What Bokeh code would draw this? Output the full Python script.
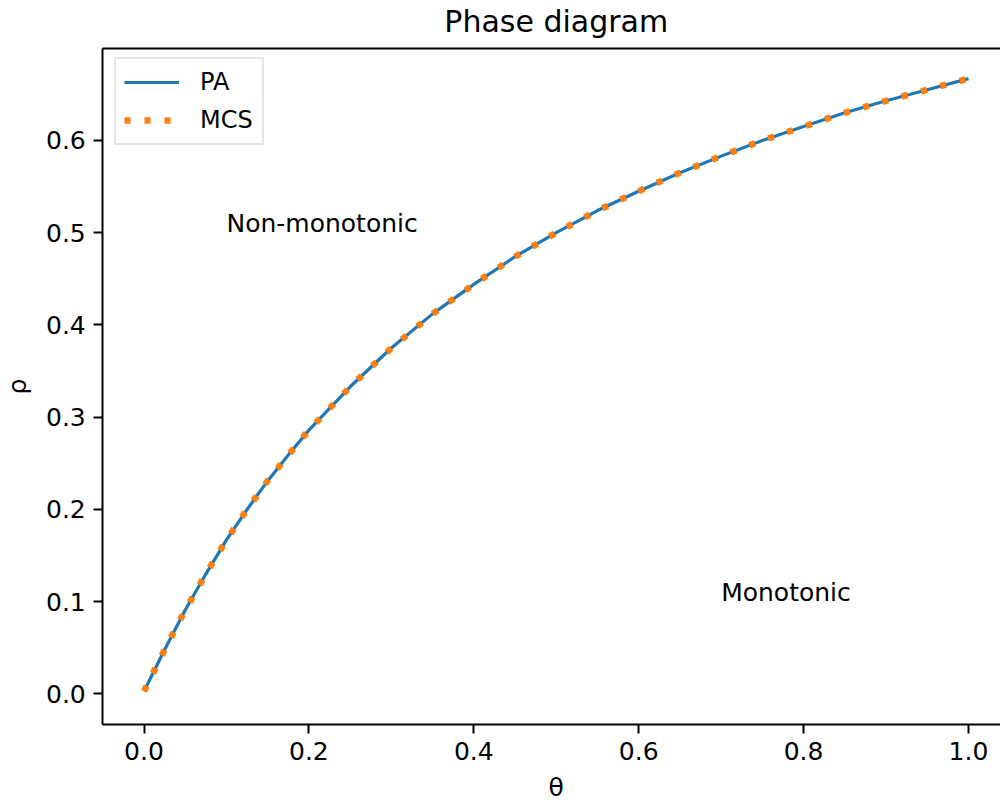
import math
from bokeh.plotting import figure
from bokeh.models import (Range1d, Legend, LegendItem, Label, SingleIntervalTicker, FixedTicker,
                          LinearAxis, CustomJSTickFormatter)
from bokeh.embed import file_html
from bokeh.resources import INLINE

# data
theta = [0.0, 0.025, 0.05, 0.075, 0.1, 0.125, 0.15, 0.175, 0.2, 0.25, 0.3, 0.35, 0.4,
         0.45, 0.5, 0.55, 0.6, 0.65, 0.7, 0.75, 0.8, 0.85, 0.9, 0.95, 1.0]
pa_rho = [0.003, 0.048, 0.091, 0.130, 0.167, 0.200, 0.231, 0.259, 0.286, 0.333, 0.375, 0.412,
          0.444, 0.474, 0.500, 0.524, 0.545, 0.565, 0.583, 0.600, 0.615, 0.630, 0.643, 0.655, 0.667]
mcs_rho = [0.003, 0.048, 0.091, 0.130, 0.167, 0.200, 0.231, 0.259, 0.286, 0.333, 0.375, 0.412,
           0.444, 0.474, 0.500, 0.524, 0.545, 0.565, 0.583, 0.600, 0.615, 0.630, 0.643, 0.655, 0.667]
series_names = ["PA", "MCS"]
region_labels = ["Non-monotonic", "Monotonic"]
region_x = [0.1, 0.7]
region_y = [0.5, 0.1]
title_text = "Phase diagram"
x_label = "θ"
y_label = "ρ"

FONT = "DejaVu Sans"
# axes limits (as in the picture)
XL0, XL1 = -0.05, 1.05
YL0, YL1 = -0.0333, 0.7
# visible window (whole canvas is the frame)
X0, X1 = -0.17405, 1.03881
Y0, Y1 = -0.11652, 0.75168

p = figure(width=1000, height=801, output_backend="svg", toolbar_location=None,
           x_range=Range1d(X0, X1), y_range=Range1d(Y0, Y1),
           min_border_left=0, min_border_right=0, min_border_top=0, min_border_bottom=0)
p.outline_line_color = None
p.grid.visible = False
p.background_fill_color = "white"
p.border_fill_color = "white"

for ax in (p.xaxis[0], p.yaxis[0]):
    ax.axis_line_width = 2
    ax.axis_line_color = "black"
    ax.major_tick_line_width = 2
    ax.major_tick_line_color = "black"
    ax.major_tick_out = 9
    ax.major_tick_in = 0
    ax.minor_tick_line_color = None
    ax.major_label_text_font = FONT
    ax.major_label_text_font_size = "25px"
    ax.major_label_text_color = "black"
    ax.major_label_standoff = 8

p.xaxis.ticker = SingleIntervalTicker(interval=0.2)
p.yaxis.ticker = SingleIntervalTicker(interval=0.1)
p.xaxis.formatter = CustomJSTickFormatter(code="return tick.toFixed(1);")
p.yaxis.formatter = CustomJSTickFormatter(code="return tick.toFixed(1);")
p.xaxis.fixed_location = YL0
p.xaxis.bounds = (XL0, XL1)
p.yaxis.fixed_location = XL0
p.yaxis.bounds = (YL0, YL1)

# top spine
top = LinearAxis(fixed_location=YL1, bounds=(XL0, XL1), ticker=FixedTicker(ticks=[]),
                 axis_line_width=2, axis_line_color="black", major_tick_line_color=None,
                 minor_tick_line_color=None, major_label_text_font_size="0px")
p.add_layout(top, "above")

r_pa = p.line(theta, pa_rho, line_color="#1f77b4", line_width=3.2)
r_mcs = p.line(theta, mcs_rho, line_color="#ff7f0e", line_width=6.5, line_dash="6 14",
               line_cap="butt")

for t, x, y in zip(region_labels, region_x, region_y):
    p.add_layout(Label(x=x, y=y, text=t, text_font=FONT, text_font_size="25px",
                       text_color="black", text_baseline="alphabetic", text_align="left",
                       y_offset=9))

p.add_layout(Label(x=(XL0 + XL1) / 2, y=YL1, y_offset=27, text=title_text, text_font=FONT,
                   text_font_size="30px", text_color="black", text_align="center",
                   text_baseline="alphabetic"))
p.add_layout(Label(x=(XL0 + XL1) / 2, y=YL0, y_offset=-63, text=x_label, text_font=FONT,
                   text_font_size="25px", text_color="black", text_align="center",
                   text_baseline="alphabetic"))
p.add_layout(Label(x=XL0, y=(YL0 + YL1) / 2, x_offset=-85, text=y_label, text_font=FONT,
                   text_font_size="25px", text_color="black", text_align="center",
                   text_baseline="middle", angle=math.pi / 2))

legend = Legend(items=[LegendItem(label=series_names[0], renderers=[r_pa]),
                       LegendItem(label=series_names[1], renderers=[r_mcs])],
                location=(114, 656))
legend.label_text_font = FONT
legend.label_text_font_size = "24px"
legend.label_text_color = "black"
legend.glyph_width = 55
legend.glyph_height = 30
legend.label_standoff = 21
legend.label_width = 54
legend.spacing = 8
legend.padding = 8
legend.margin = 0
legend.border_line_color = "#cccccc"
legend.border_line_width = 2
legend.background_fill_alpha = 0.8
p.add_layout(legend)

open("out.html", "w").write(file_html(p, INLINE))
